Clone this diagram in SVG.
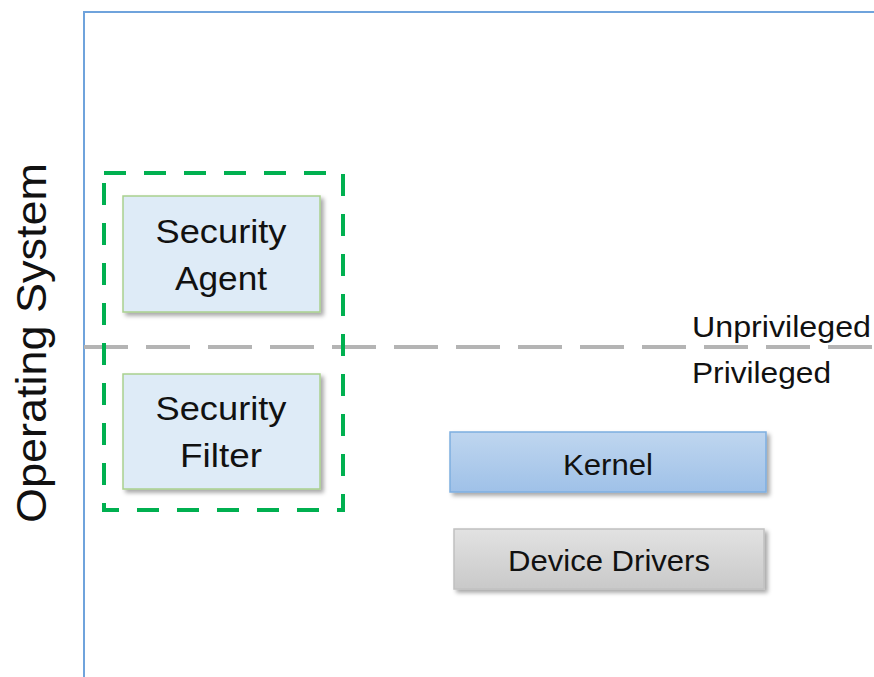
<svg xmlns="http://www.w3.org/2000/svg" width="874" height="677" viewBox="0 0 874 677">
<defs>
<style>
text{font-family:"Liberation Sans","DejaVu Sans",sans-serif;fill:#111;}
.lbl{font-size:34px;text-anchor:middle;}
.blk{font-size:30px;text-anchor:middle;}
.side{font-size:29px;}
.sec{fill:#deebf7;stroke:#a9d18e;stroke-width:1.5;}
</style>
<linearGradient id="gK" x1="0" y1="0" x2="0" y2="1">
<stop offset="0" stop-color="#bfd6ef"/>
<stop offset="1" stop-color="#9fc1e8"/>
</linearGradient>
<linearGradient id="gD" x1="0" y1="0" x2="0" y2="1">
<stop offset="0" stop-color="#e2e2e2"/>
<stop offset="1" stop-color="#c9c9c9"/>
</linearGradient>
<filter id="sh" x="-10%" y="-10%" width="130%" height="140%">
<feDropShadow dx="3" dy="3" stdDeviation="2" flood-color="#000" flood-opacity="0.35"/>
</filter>
</defs>
<rect width="874" height="677" fill="#fff"/>
<g id="frame">
<path d="M84 677 V12 H874" fill="none" stroke="#6fa3dc" stroke-width="2"/>
</g>
<g id="os-label">
<text transform="translate(46 343) rotate(-90)" font-size="42" text-anchor="middle" textLength="360" lengthAdjust="spacingAndGlyphs">Operating System</text>
</g>
<g id="connectors">
<line x1="84" y1="347" x2="874" y2="347" stroke="#b4b4b4" stroke-width="4" stroke-dasharray="44 18"/>
</g>
<g id="privilege-labels">
<text class="side" x="692" y="337" textLength="179" lengthAdjust="spacingAndGlyphs">Unprivileged</text>
<text class="side" x="692" y="383" textLength="139" lengthAdjust="spacingAndGlyphs">Privileged</text>
</g>
<g id="security-group">
<rect x="104" y="173" width="239" height="337" fill="none" stroke="#00b050" stroke-width="4" stroke-dasharray="22 18"/>
</g>
<g id="security-agent">
<rect class="sec" x="123" y="196" width="197" height="116" filter="url(#sh)"/>
<text class="lbl" x="221" y="243" textLength="131" lengthAdjust="spacingAndGlyphs">Security</text>
<text class="lbl" x="221" y="290" textLength="92" lengthAdjust="spacingAndGlyphs">Agent</text>
</g>
<g id="security-filter">
<rect class="sec" x="123" y="374" width="197" height="115" filter="url(#sh)"/>
<text class="lbl" x="221" y="420" textLength="131" lengthAdjust="spacingAndGlyphs">Security</text>
<text class="lbl" x="221" y="467" textLength="82" lengthAdjust="spacingAndGlyphs">Filter</text>
</g>
<g id="kernel">
<rect x="450" y="432" width="316" height="60" fill="url(#gK)" stroke="#7eaee0" stroke-width="1.5" filter="url(#sh)"/>
<text class="blk" x="608" y="475" textLength="90" lengthAdjust="spacingAndGlyphs">Kernel</text>
</g>
<g id="device-drivers">
<rect x="454" y="529" width="310" height="60" fill="url(#gD)" stroke="#c0c0c0" stroke-width="1.5" filter="url(#sh)"/>
<text class="blk" x="609" y="571" textLength="202" lengthAdjust="spacingAndGlyphs">Device Drivers</text>
</g>
</svg>
